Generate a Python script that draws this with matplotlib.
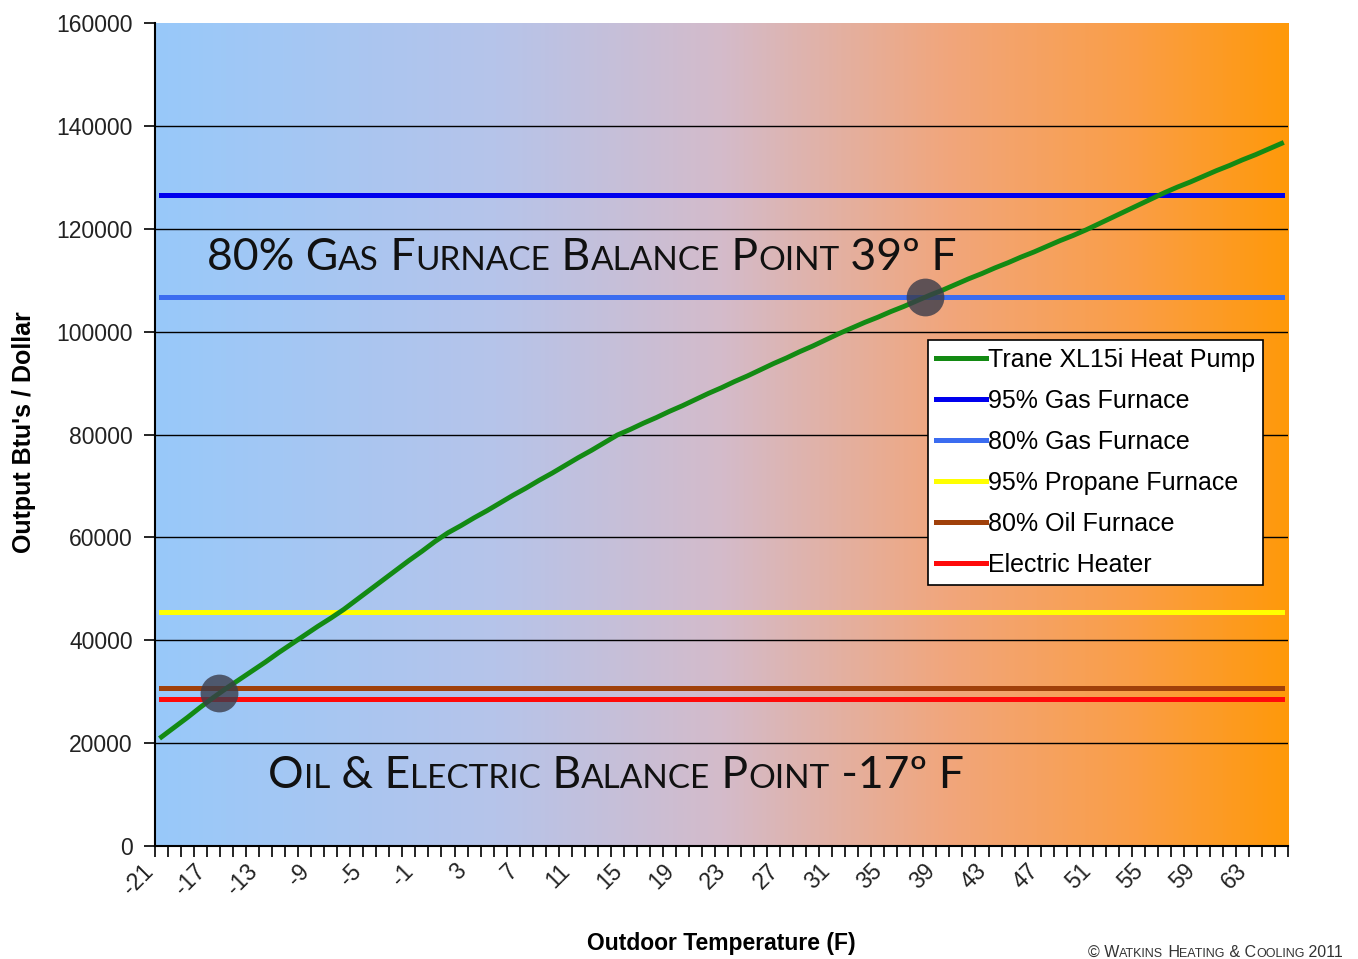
import numpy as np
import matplotlib
matplotlib.use("Agg")
import matplotlib.pyplot as plt
from matplotlib.colors import LinearSegmentedColormap
from matplotlib.transforms import ScaledTranslation

# outdoor temperature categories (F)
temps = list(range(-21, 66))

# Trane XL15i heat pump, output Btu's per dollar
heat_pump = [
    21200, 23100, 25000, 27000, 28900, 30700, 32400, 34100, 35800, 37600,   # -21 .. -12
    39300, 41000, 42700, 44300, 46000, 47900, 49800, 51700, 53600, 55500,   # -11 .. -2
    57300, 59200, 60900, 62300, 63800, 65200, 66700, 68200, 69600, 71100,   # -1 .. 8
    72500, 74000, 75500, 76900, 78400, 79900, 81000, 82200, 83300, 84500,   # 9 .. 18
    85600, 86800, 88000, 89100, 90300, 91400, 92600, 93800, 94900, 96100,   # 19 .. 28
    97200, 98400, 99600, 100700, 101800, 102800, 103900, 104900, 106000, 107100,  # 29 .. 38
    108100, 109200, 110300, 111300, 112400, 113400, 114500, 115500, 116600, 117700,  # 39 .. 48
    118700, 119800, 121000, 122200, 123400, 124600, 125800, 127000, 128100, 129100,  # 49 .. 58
    130200, 131300, 132300, 133400, 134400, 135500, 136600,  # 59 .. 65
]

# flat cost lines for the other fuels
gas_95 = 126500
gas_80 = 106700
propane_95 = 45500
oil_80 = 30700
electric = 28600

# balance points marked with grey dots
balance_x = [-16.6, 37.6]
balance_y = [29700, 106700]

tick_temps = list(range(-21, 64, 4))
y_ticks = list(range(0, 160001, 20000))

fig = plt.figure(figsize=(13.58, 9.59), dpi=100)
ax = fig.add_axes([0.1141, 0.1178, 0.8344, 0.8582])

# background gradient blue -> orange
cmap = LinearSegmentedColormap.from_list("bg", [
    (0.00, (152/255, 201/255, 250/255)),
    (0.30, (182/255, 196/255, 234/255)),
    (0.50, (212/255, 187/255, 202/255)),
    (0.70, (241/255, 166/255, 124/255)),
    (0.86, (250/255, 158/255, 72/255)),
    (1.00, (255/255, 153/255, 10/255)),
])
grad = np.linspace(0, 1, 512).reshape(1, -1)
ax.imshow(grad, cmap=cmap, aspect="auto", extent=[-21.5, 65.5, 0, 160000], zorder=0)

ax.hlines(y_ticks[1:-1], -21.5, 65.5, color="black", lw=1.0, zorder=1)

n = len(temps)
ax.plot(temps, heat_pump, color="#138a13", lw=3.5, label="Trane XL15i Heat Pump", zorder=4)
ax.plot(temps, [gas_95] * n, color="#0000ee", lw=3.6, label="95% Gas Furnace", zorder=3)
ax.plot(temps, [gas_80] * n, color="#3b6cf0", lw=3.6, label="80% Gas Furnace", zorder=3)
ax.plot(temps, [propane_95] * n, color="#ffff00", lw=3.6, label="95% Propane Furnace", zorder=3)
ax.plot(temps, [oil_80] * n, color="#a0400a", lw=3.6, label="80% Oil Furnace", zorder=3)
ax.plot(temps, [electric] * n, color="#ff0a0a", lw=3.6, label="Electric Heater", zorder=3)

ax.scatter(balance_x, balance_y, s=740, color="#3a3c4a", alpha=0.8, zorder=5, linewidths=0)

ax.set_xlim(-21.5, 65.5)
ax.set_ylim(0, 160000)
ax.set_xticks(tick_temps)
ax.set_xticks(np.arange(-21.5, 66, 1), minor=True)
ax.tick_params(axis="x", which="major", length=0, pad=12)
ax.tick_params(axis="x", which="minor", length=8, width=1.2, direction="out")
ax.set_xticklabels([str(t) for t in tick_temps], rotation=45, ha="right",
                   rotation_mode="anchor", fontsize=16.5, color="#222222",
                   family="Liberation Sans")
ax.set_yticks(y_ticks)
ax.set_yticklabels([str(v) for v in y_ticks], fontsize=16.5, color="#222222",
                   family="Liberation Sans")
ax.tick_params(axis="y", length=8, width=1.2, direction="out", pad=8)

# nudge the slanted labels so their ends sit left of the tick, as in the original
shift = ScaledTranslation(-20 / 100, 3 / 100, fig.dpi_scale_trans)
for lab in ax.get_xticklabels():
    lab.set_transform(lab.get_transform() + shift)

for s in ["top", "right"]:
    ax.spines[s].set_visible(False)
for s in ["left", "bottom"]:
    ax.spines[s].set_linewidth(1.5)

ax.set_xlabel("Outdoor Temperature (F)", fontsize=16.5, fontweight="bold",
              family="Liberation Sans")
ax.set_ylabel("Output Btu's / Dollar", fontsize=18, fontweight="bold",
              family="Liberation Sans")
ax.xaxis.set_label_coords(0.5, -0.1045)
ax.yaxis.set_label_coords(-0.105, 0.503)

leg = ax.legend(loc="upper left", bbox_to_anchor=(0.682, 0.615), borderaxespad=0,
                fancybox=False, edgecolor="black", framealpha=1,
                prop={"family": "Liberation Sans", "size": 18},
                handlelength=2.0, handletextpad=0.1, labelspacing=0.68,
                borderpad=0.32)
leg.get_frame().set_linewidth(1.2)
leg.set_zorder(6)
for line in leg.get_lines():
    line.set_linewidth(3.6)


def small_caps(x, y, s, big, small, family, color="black"):
    fig.canvas.draw()
    r = fig.canvas.get_renderer()
    runs = []
    for ch in s:
        is_big = not ("a" <= ch <= "z")
        if runs and runs[-1][1] == is_big:
            runs[-1][0] += ch
        else:
            runs.append([ch, is_big])
    xp = x
    for txt, is_big in runs:
        t = fig.text(xp, y, txt.upper(), fontsize=big if is_big else small,
                     family=family, va="baseline", ha="left", color=color, zorder=7)
        w = t.get_window_extent(renderer=r).width
        xp += w / fig.bbox.width


small_caps(207 / 1358, 1 - 270 / 959, "80% Gas Furnace Balance Point 39º F", 32, 24, "Lato", "#111111")
small_caps(268 / 1358, 1 - 788 / 959, "Oil & Electric Balance Point -17º F", 32, 24, "Lato", "#111111")
small_caps(1088 / 1358, 1 - 957 / 959, "© Watkins Heating & Cooling 2011", 11.5, 9, "Liberation Sans", "#333333")

fig.savefig("out.png", dpi=100)
